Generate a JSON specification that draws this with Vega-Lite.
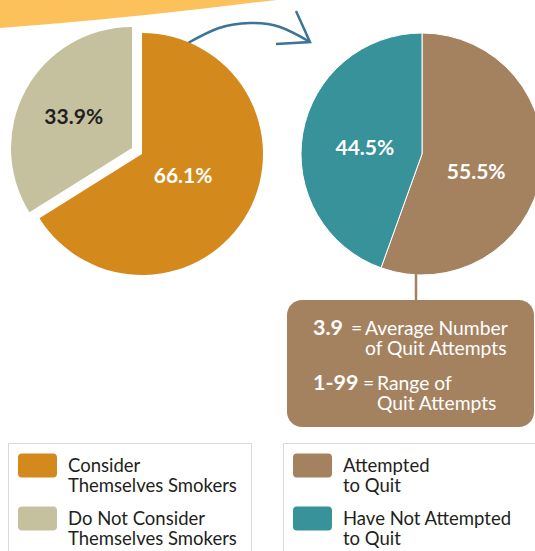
{
"$schema":"https://vega.github.io/schema/vega-lite/v6.json",
"width":535,"height":551,"padding":0,"autosize":{"type":"none"},
"background":"#ffffff",
"config":{"view":{"stroke":null},"font":"Lato","style":{"guide-label":{"lineHeight":20,"dy":-7}}},
"datasets":{
 "smokers":[{"group":"Consider Themselves Smokers","share":0.661},{"group":"Do Not Consider Themselves Smokers","share":0.339}],
 "quit":[{"group":"Attempted to Quit","share":0.555},{"group":"Have Not Attempted to Quit","share":0.445}],
 "stats":[{"value":"3.9","lines":["Average Number","of Quit Attempts"]},{"value":"1-99","lines":["Range of","Quit Attempts"]}],
 "band":[{"bx":0,"by":28},{"bx":50,"by":24},{"bx":100,"by":19.5},{"bx":150,"by":14.5},{"bx":200,"by":9},{"bx":250,"by":3},{"bx":277,"by":0}],
 "arrowCurve":[{"ax":188,"ay":43},{"ax":219,"ay":28},{"ax":250,"ay":23},{"ax":280,"ay":27},{"ax":310,"ay":42}],
 "arrowHead":[{"ax":296,"ay":11,"i":0},{"ax":310,"ay":42,"i":1},{"ax":276,"ay":44,"i":2}]
},
"resolve":{"scale":{"color":"independent"},"legend":{"color":"independent"}},
"layer":[
 {"data":{"name":"band"},"mark":{"type":"area","color":"#FDC15B","interpolate":"monotone"},
  "encoding":{"x":{"field":"bx","type":"quantitative","scale":{"domain":[0,535],"nice":false,"zero":false},"axis":null},
   "y":{"field":"by","type":"quantitative","scale":{"domain":[551,0],"nice":false,"zero":false},"axis":null},
   "y2":{"datum":0}}},
 {"data":{"name":"arrowCurve"},"mark":{"type":"line","color":"#3C7398","strokeWidth":2.5,"interpolate":"natural"},
  "encoding":{"x":{"field":"ax","type":"quantitative","scale":{"domain":[0,535],"nice":false,"zero":false},"axis":null},
   "y":{"field":"ay","type":"quantitative","scale":{"domain":[551,0],"nice":false,"zero":false},"axis":null}}},
 {"data":{"name":"arrowHead"},"mark":{"type":"line","color":"#3C7398","strokeWidth":2.5,"strokeJoin":"miter"},
  "encoding":{"x":{"field":"ax","type":"quantitative","scale":{"domain":[0,535],"nice":false,"zero":false},"axis":null},
   "y":{"field":"ay","type":"quantitative","scale":{"domain":[551,0],"nice":false,"zero":false},"axis":null},
   "order":{"field":"i","type":"quantitative"}}},
 {"data":{"name":"smokers"},"mark":{"type":"arc","outerRadius":121},
  "encoding":{"theta":{"field":"share","type":"quantitative","stack":true},
   "color":{"field":"group","type":"nominal","scale":{"domain":["Consider Themselves Smokers","Do Not Consider Themselves Smokers"],"range":["#D4891D","#C5C19F"]},
     "legend":{"title":null,"orient":"none","legendX":8,"legendY":443,"direction":"vertical",
       "symbolType":"M-0.8,-0.975L0.8,-0.975Q1,-0.975,1,-0.775L1,0.055Q1,0.255,0.8,0.255L-0.8,0.255Q-1,0.255,-1,0.055L-1,-0.775Q-1,-0.975,-0.8,-0.975ZM10.4,0Z",
       "symbolSize":1521,"symbolStrokeWidth":0,"symbolOpacity":1,"labelFont":"Lato","labelFontSize":18.5,"labelColor":"#231F20","labelLimit":400,"labelOffset":11,
       "rowPadding":11,"padding":10,"strokeColor":"#D9D9D9",
       "labelExpr":"datum.label == 'Consider Themselves Smokers' ? ['Consider', 'Themselves Smokers'] : ['Do Not Consider', 'Themselves Smokers']"}},
   "fillOpacity":{"condition":{"test":"datum.group === 'Consider Themselves Smokers'","value":1},"value":0},
   "x":{"datum":142,"type":"quantitative","scale":{"domain":[0,535],"nice":false,"zero":false},"axis":null},
   "y":{"datum":154,"type":"quantitative","scale":{"domain":[551,0],"nice":false,"zero":false},"axis":null}}},
 {"data":{"name":"smokers"},"mark":{"type":"arc","outerRadius":121},
  "encoding":{"theta":{"field":"share","type":"quantitative","stack":true},
   "color":{"field":"group","type":"nominal","scale":{"domain":["Consider Themselves Smokers","Do Not Consider Themselves Smokers"],"range":["#D4891D","#C5C19F"]},"legend":null},
   "fillOpacity":{"condition":{"test":"datum.group === 'Do Not Consider Themselves Smokers'","value":1},"value":0},
   "x":{"datum":132,"type":"quantitative","scale":{"domain":[0,535],"nice":false,"zero":false},"axis":null},
   "y":{"datum":148,"type":"quantitative","scale":{"domain":[551,0],"nice":false,"zero":false},"axis":null}}},
 {"data":{"name":"smokers"},"mark":{"type":"text","radius":47,"font":"Lato","fontSize":21,"fontWeight":"bold","color":"#ffffff","align":"center","baseline":"middle"},
  "encoding":{"theta":{"field":"share","type":"quantitative","stack":true},
   "order":{"field":"group","type":"nominal","sort":"ascending"},
   "text":{"field":"share","type":"quantitative","format":".1%"},
   "opacity":{"condition":{"test":"datum.group === 'Consider Themselves Smokers'","value":1},"value":0},
   "x":{"datum":142,"type":"quantitative","scale":{"domain":[0,535],"nice":false,"zero":false},"axis":null},
   "y":{"datum":154,"type":"quantitative","scale":{"domain":[551,0],"nice":false,"zero":false},"axis":null}}},
 {"data":{"name":"smokers"},"mark":{"type":"text","radius":66.6,"dy":2.5,"font":"Lato","fontSize":21,"fontWeight":"bold","color":"#231F20","align":"center","baseline":"middle"},
  "encoding":{"theta":{"field":"share","type":"quantitative","stack":true},
   "order":{"field":"group","type":"nominal","sort":"ascending"},
   "text":{"field":"share","type":"quantitative","format":".1%"},
   "opacity":{"condition":{"test":"datum.group === 'Do Not Consider Themselves Smokers'","value":1},"value":0},
   "x":{"datum":132,"type":"quantitative","scale":{"domain":[0,535],"nice":false,"zero":false},"axis":null},
   "y":{"datum":148,"type":"quantitative","scale":{"domain":[551,0],"nice":false,"zero":false},"axis":null}}},
 {"data":{"name":"quit"},"mark":{"type":"arc","outerRadius":121,"stroke":"#ffffff","strokeWidth":1},
  "encoding":{"theta":{"field":"share","type":"quantitative","stack":true},
   "color":{"field":"group","type":"nominal","scale":{"domain":["Attempted to Quit","Have Not Attempted to Quit"],"range":["#A5825F","#37929A"]},
     "legend":{"title":null,"orient":"none","legendX":283,"legendY":443,"direction":"vertical",
       "symbolType":"M-0.8,-0.975L0.8,-0.975Q1,-0.975,1,-0.775L1,0.055Q1,0.255,0.8,0.255L-0.8,0.255Q-1,0.255,-1,0.055L-1,-0.775Q-1,-0.975,-0.8,-0.975ZM11.8,0Z",
       "symbolSize":1521,"symbolStrokeWidth":0,"symbolOpacity":1,"labelFont":"Lato","labelFontSize":18.5,"labelColor":"#231F20","labelLimit":400,"labelOffset":11,
       "rowPadding":11,"padding":10,"strokeColor":"#D9D9D9",
       "labelExpr":"datum.label == 'Attempted to Quit' ? ['Attempted', 'to Quit'] : ['Have Not Attempted', 'to Quit']"}},
   "x":{"datum":422,"type":"quantitative","scale":{"domain":[0,535],"nice":false,"zero":false},"axis":null},
   "y":{"datum":154,"type":"quantitative","scale":{"domain":[551,0],"nice":false,"zero":false},"axis":null}}},
 {"data":{"name":"quit"},"mark":{"type":"text","radius":55,"dy":10,"font":"Lato","fontSize":21,"fontWeight":"bold","color":"#ffffff","align":"center","baseline":"middle"},
  "encoding":{"theta":{"field":"share","type":"quantitative","stack":true},
   "order":{"field":"group","type":"nominal","sort":"ascending"},
   "text":{"field":"share","type":"quantitative","format":".1%"},
   "opacity":{"condition":{"test":"datum.group === 'Attempted to Quit'","value":1},"value":0},
   "x":{"datum":422,"type":"quantitative","scale":{"domain":[0,535],"nice":false,"zero":false},"axis":null},
   "y":{"datum":154,"type":"quantitative","scale":{"domain":[551,0],"nice":false,"zero":false},"axis":null}}},
 {"data":{"name":"quit"},"mark":{"type":"text","radius":58,"dy":5,"font":"Lato","fontSize":21,"fontWeight":"bold","color":"#ffffff","align":"center","baseline":"middle"},
  "encoding":{"theta":{"field":"share","type":"quantitative","stack":true},
   "order":{"field":"group","type":"nominal","sort":"ascending"},
   "text":{"field":"share","type":"quantitative","format":".1%"},
   "opacity":{"condition":{"test":"datum.group === 'Have Not Attempted to Quit'","value":1},"value":0},
   "x":{"datum":422,"type":"quantitative","scale":{"domain":[0,535],"nice":false,"zero":false},"axis":null},
   "y":{"datum":154,"type":"quantitative","scale":{"domain":[551,0],"nice":false,"zero":false},"axis":null}}},
 {"data":{"name":"quit"},"transform":[{"filter":"datum.group === 'Attempted to Quit'"}],
  "mark":{"type":"rule","color":"#A5825F","strokeWidth":2.5},
  "encoding":{"x":{"datum":416,"type":"quantitative","scale":{"domain":[0,535],"nice":false,"zero":false},"axis":null},
   "y":{"datum":274,"type":"quantitative","scale":{"domain":[551,0],"nice":false,"zero":false},"axis":null},
   "y2":{"datum":302}}},
 {"data":{"name":"quit"},"transform":[{"filter":"datum.group === 'Attempted to Quit'"}],
  "mark":{"type":"rect","color":"#A5825F","cornerRadius":15},
  "encoding":{"x":{"datum":287,"type":"quantitative","scale":{"domain":[0,535],"nice":false,"zero":false},"axis":null},
   "x2":{"datum":534},
   "y":{"datum":300,"type":"quantitative","scale":{"domain":[551,0],"nice":false,"zero":false},"axis":null},
   "y2":{"datum":427}}},
 {"data":{"name":"stats"},"transform":[{"filter":"datum.value === '3.9'"}],
  "mark":{"type":"text","font":"Lato","fontSize":21.5,"fontWeight":"bold","color":"#ffffff","align":"left","baseline":"alphabetic"},
  "encoding":{"text":{"field":"value","type":"nominal"},
   "x":{"datum":313,"type":"quantitative","scale":{"domain":[0,535],"nice":false,"zero":false},"axis":null},
   "y":{"datum":335,"type":"quantitative","scale":{"domain":[551,0],"nice":false,"zero":false},"axis":null}}},
 {"data":{"name":"stats"},"transform":[{"filter":"datum.value === '3.9'"}],
  "mark":{"type":"text","text":"=","font":"Lato","fontSize":19.3,"color":"#ffffff","align":"left","baseline":"alphabetic"},
  "encoding":{
   "x":{"datum":351,"type":"quantitative","scale":{"domain":[0,535],"nice":false,"zero":false},"axis":null},
   "y":{"datum":335,"type":"quantitative","scale":{"domain":[551,0],"nice":false,"zero":false},"axis":null}}},
 {"data":{"name":"stats"},"transform":[{"filter":"datum.value === '3.9'"}],
  "mark":{"type":"text","font":"Lato","fontSize":19.3,"lineHeight":19.5,"color":"#ffffff","align":"left","baseline":"alphabetic"},
  "encoding":{"text":{"field":"lines","type":"nominal"},
   "x":{"datum":365,"type":"quantitative","scale":{"domain":[0,535],"nice":false,"zero":false},"axis":null},
   "y":{"datum":335,"type":"quantitative","scale":{"domain":[551,0],"nice":false,"zero":false},"axis":null}}},
 {"data":{"name":"stats"},"transform":[{"filter":"datum.value === '1-99'"}],
  "mark":{"type":"text","font":"Lato","fontSize":21.5,"fontWeight":"bold","color":"#ffffff","align":"left","baseline":"alphabetic"},
  "encoding":{"text":{"field":"value","type":"nominal"},
   "x":{"datum":313,"type":"quantitative","scale":{"domain":[0,535],"nice":false,"zero":false},"axis":null},
   "y":{"datum":390,"type":"quantitative","scale":{"domain":[551,0],"nice":false,"zero":false},"axis":null}}},
 {"data":{"name":"stats"},"transform":[{"filter":"datum.value === '1-99'"}],
  "mark":{"type":"text","text":"=","font":"Lato","fontSize":19.3,"color":"#ffffff","align":"left","baseline":"alphabetic"},
  "encoding":{
   "x":{"datum":363,"type":"quantitative","scale":{"domain":[0,535],"nice":false,"zero":false},"axis":null},
   "y":{"datum":390,"type":"quantitative","scale":{"domain":[551,0],"nice":false,"zero":false},"axis":null}}},
 {"data":{"name":"stats"},"transform":[{"filter":"datum.value === '1-99'"}],
  "mark":{"type":"text","font":"Lato","fontSize":19.3,"lineHeight":19.5,"color":"#ffffff","align":"left","baseline":"alphabetic"},
  "encoding":{"text":{"field":"lines","type":"nominal"},
   "x":{"datum":377,"type":"quantitative","scale":{"domain":[0,535],"nice":false,"zero":false},"axis":null},
   "y":{"datum":390,"type":"quantitative","scale":{"domain":[551,0],"nice":false,"zero":false},"axis":null}}}
]
}
